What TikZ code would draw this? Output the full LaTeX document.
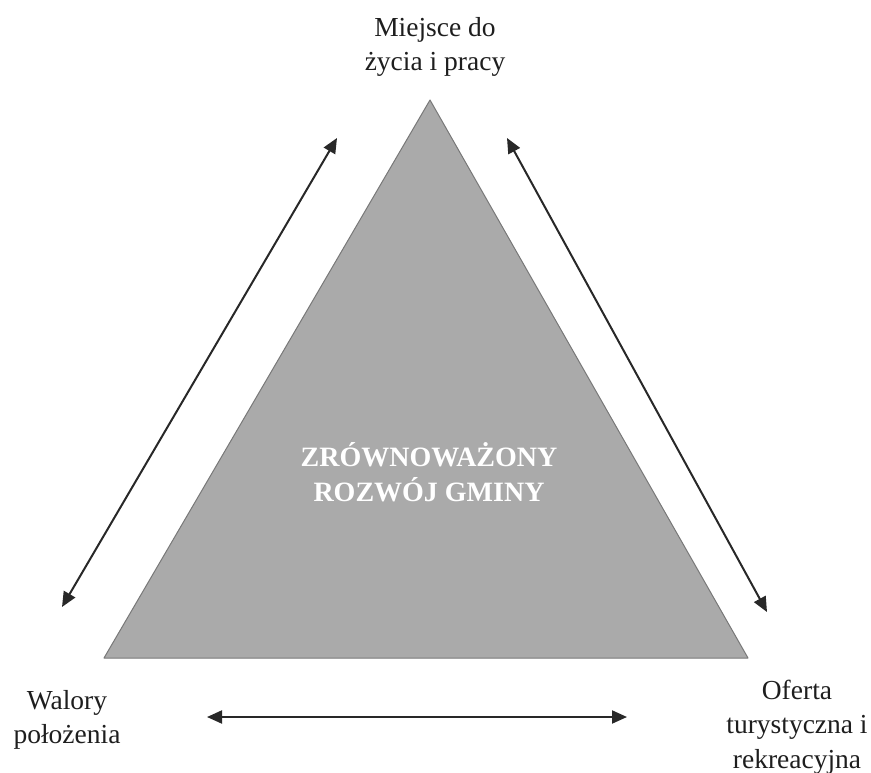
\documentclass[tikz,border=0pt]{standalone}
\usepackage{fontspec}
\setmainfont{Liberation Serif}
\usetikzlibrary{arrows.meta}
\definecolor{trifill}{RGB}{170,170,170}
\definecolor{triedge}{RGB}{120,120,120}
\definecolor{arrowcol}{RGB}{40,40,40}
\definecolor{labelcol}{RGB}{30,30,30}
\begin{document}
\begin{tikzpicture}[x=1pt,y=-1pt,
  link/.style={draw=arrowcol, line width=2pt,
    {Triangle[length=15pt,width=13pt]}-{Triangle[length=15pt,width=13pt]}},
  labeltext/.style={align=center, inner sep=0pt, text=labelcol,
    font=\fontsize{27.5}{34.5}\selectfont},
  centertext/.style={align=center, inner sep=0pt, text=white,
    font=\fontsize{28}{35}\selectfont\bfseries}]
\useasboundingbox (0,0) rectangle (871,773);
% triangle
\coordinate (A) at (430,100);
\coordinate (B) at (104,658);
\coordinate (C) at (748,658);
\path[fill=trifill, draw=triedge, line width=1pt, line join=round] (A) -- (B) -- (C) -- cycle;
\node[centertext] (centre) at (429,472) {ZRÓWNOWAŻONY\\ROZWÓJ GMINY};
% labels
\node[labeltext] (top) at (435,47) {Miejsce do\\życia i pracy};
\node[labeltext] (left) at (67,720) {Walory\\położenia};
\node[labeltext] (right) at (797,727) {Oferta\\turystyczna i\\rekreacyjna};
% arrow ends
\coordinate (l1) at (337,138);
\coordinate (l2) at (62,607);
\coordinate (r1) at (507,138);
\coordinate (r2) at (767,612);
\coordinate (b1) at (207,717);
\coordinate (b2) at (627,717);
\draw[link] (l1) -- (l2);
\draw[link] (r1) -- (r2);
\draw[link] (b1) -- (b2);
\end{tikzpicture}
\end{document}
